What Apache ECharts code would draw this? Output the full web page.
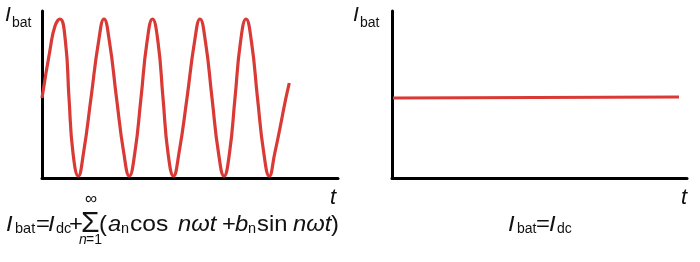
<!DOCTYPE html>
<html>
<head>
<meta charset="utf-8">
<script src="https://cdn.jsdelivr.net/npm/echarts@6/dist/echarts.min.js"></script>
<style>
html,body{margin:0;padding:0;background:#fff;}
#chart{width:700px;height:262px;}
</style>
</head>
<body>
<div id="chart"></div>
<script>
// Left panel: battery current with ripple (time units, current units)
const waveT = [0, 8, 13, 18, 23.5, 27, 31, 36.3, 41.5, 49, 56.5, 62, 67.5, 74.5, 81.8, 87.3, 92.8, 99, 105, 110.5, 116, 121, 126, 131.5, 137, 145, 152.5, 158, 163.5, 170, 176.5, 182, 187.5, 193, 198.5, 204, 209.5, 215.5, 221.8, 227.3, 232.8, 238, 243.5, 247.3];
const waveI = [80, 128, 152, 159, 136, 80, 25, 2, 25, 80, 136, 159, 136, 80, 25, 2, 25, 80, 136, 159, 136, 80, 25, 2, 25, 80, 136, 159, 136, 80, 25, 2, 25, 80, 136, 159, 136, 80, 25, 2, 25, 50, 78, 95];
// Right panel: pure DC battery current
const dcT = [1, 287];
const dcI = [80, 81];

const RED = '#d93a35';
const FONT = '"Liberation Sans", Arial, Helvetica, sans-serif';

function pairs(xs, ys) { return xs.map((x, i) => [x, ys[i]]); }

// text helper: x = left, b = alphabetic baseline, sx = horizontal stretch
function T(text, x, b, size, italic, sx) {
  return {
    type: 'text', x: x, y: b - 0.32 * size, z: 10, scaleX: sx || 1,
    style: {
      text: text, fill: '#111',
      font: (italic ? 'italic ' : '') + size + 'px ' + FONT,
      align: 'left', verticalAlign: 'middle'
    }
  };
}
const S = 1.08;

const graphics = [
  // axis labels
  T('I', 5, 22, 21, true), T('bat', 12, 28, 14, false),
  T('I', 353, 22, 21, true), T('bat', 360, 28, 14, false),
  T('t', 330, 205, 22, true), T('t', 681, 205, 22, true),
  // left formula
  T('I', 6, 232, 22, true, S), T('bat', 15, 234, 14.5, false),
  T('=', 36, 232, 22, false, S),
  T('I', 48, 232, 22, true, S), T('dc', 56, 234, 14.5, false),
  T('+', 69, 232, 22, false, S),
  T('\u03A3', 81, 233, 30, false),
  T('\u221E', 85, 205, 17, false),
  T('n', 79, 245, 14, true), T('=1', 86, 245, 14, false),
  T('(', 99, 232, 22, false, S),
  T('a', 108, 232, 22, true, S), T('n', 121, 234, 14.5, false),
  T('cos', 130, 232, 22, false, S.toString() === '1.08' ? 1.12 : S),
  T('n\u03C9t', 178, 232, 22, true, S),
  T('+', 222, 232, 22, false, S),
  T('b', 235, 232, 22, true, S), T('n', 248, 234, 14.5, false),
  T('sin', 257, 232, 22, false, S),
  T('n\u03C9t', 293, 232, 22, true, S),
  T(')', 331, 232, 22, false, S),
  // right formula
  T('I', 508, 232, 22, true, S), T('bat', 517, 234, 14, false),
  T('=', 536, 232, 22, false, S),
  T('I', 549, 232, 22, true, S), T('dc', 557, 234, 14, false)
];

function axisCommon(grid, max) {
  return {
    gridIndex: grid, type: 'value', min: 0, max: max,
    axisLine: { show: true, onZero: false, lineStyle: { color: '#000', width: 3 } },
    axisTick: { show: false }, axisLabel: { show: false }, splitLine: { show: false }
  };
}

const chart = echarts.init(document.getElementById('chart'), null, { renderer: 'canvas' });
chart.setOption({
  animation: false,
  backgroundColor: '#fff',
  grid: [
    { left: 42, top: 11, width: 296, height: 167 },
    { left: 392, top: 11, width: 295, height: 167 }
  ],
  xAxis: [axisCommon(0, 296), axisCommon(1, 295)],
  yAxis: [axisCommon(0, 167), axisCommon(1, 167)],
  series: [
    { type: 'line', xAxisIndex: 0, yAxisIndex: 0, data: pairs(waveT, waveI), smooth: 0.5,
      showSymbol: false, lineStyle: { color: RED, width: 3.2 }, z: 3 },
    { type: 'line', xAxisIndex: 1, yAxisIndex: 1, data: pairs(dcT, dcI),
      showSymbol: false, lineStyle: { color: RED, width: 3 }, z: 3 }
  ],
  graphic: graphics
});
</script>
</body>
</html>
